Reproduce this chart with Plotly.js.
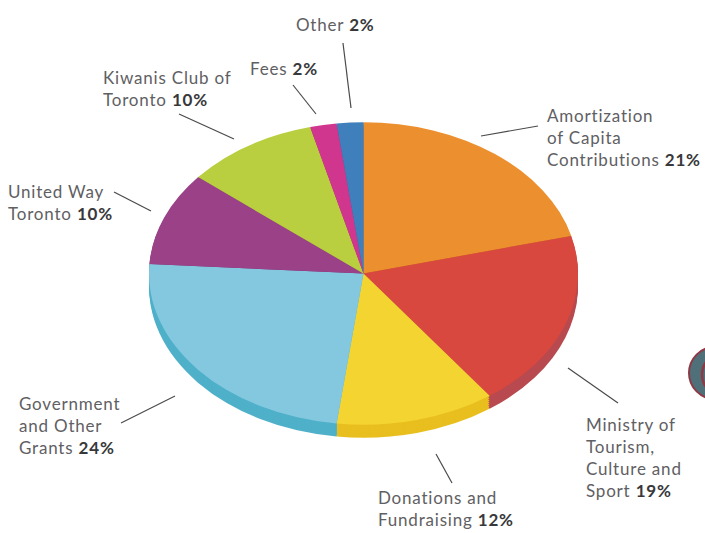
<!DOCTYPE html>
<html>
<head>
<meta charset="utf-8">
<script src="https://cdn.plot.ly/plotly-3.0.1.min.js"></script>
<style>
html,body{margin:0;padding:0;background:#fff;}
#chart{width:705px;height:533px;}
.annotation text{letter-spacing:.8px;}
</style>
</head>
<body>
<div id="chart"></div>
<script>
var categories = ["Amortization of Capita Contributions","Ministry of Tourism, Culture and Sport","Donations and Fundraising","Government and Other Grants","United Way Toronto","Kiwanis Club of Toronto","Fees","Other"];
var values = [21,19,12,24,10,10,2,2];
var topColors = ["#ec8f2e","#d9483f","#f4d431","#83c8de","#9a4188","#b9cf3f","#d1368f","#3f7fbc"];
var rimColors = ["#c9761f","#b84a50","#e8bf1e","#4fb0c9","#7c3370","#96a830","#a82a72","#2f6498"];
var labelHead = ["Amortization<br>of Capita<br>Contributions ","Ministry of<br>Tourism,<br>Culture and<br>Sport ","Donations and<br>Fundraising ","Government<br>and Other<br>Grants ","United Way<br>Toronto ","Kiwanis Club of<br>Toronto ","Fees ","Other "];
var labelPct = ["21%","19%","12%","24%","10%","10%","2%","2%"];
var labelLeft = [546,585,377,18,7,102,249,295];
var labelTop = [104,413,486,392,180,66,57,13];
var leaders = [
  [481,136,538,126],[568,368,618,403],[436,454,452,483],[175,396,121,423],
  [114,192,151,211],[179,114,234,139],[293,85,316,114],[343,43,351,108]
];
var rimOffsets = [13,11,9,7,5,3,1];

var W = 705, H = 533;
var cx = 363.5, rx = 214.5, squash = 0.705, faceCy = 273.5;
function px(x){return x/W;}
function py(y){return 1-y/H;}
function pie(colors){
  return {type:"pie",labels:categories,values:values,sort:false,direction:"clockwise",rotation:0,
    textinfo:"none",hoverinfo:"label+percent",showlegend:false,
    marker:{colors:colors,line:{width:0}},
    domain:{x:[px(cx-rx),px(cx+rx)],y:[py(H/2+rx),py(H/2-rx)]}};
}
var annotations = labelHead.map(function(t,i){
  return {xref:"paper",yref:"paper",x:px(labelLeft[i]),y:py(labelTop[i]),xanchor:"left",yanchor:"top",
    align:"left",showarrow:false,borderpad:0,
    text:t+'<b><span style="color:#38383a">'+labelPct[i]+"</span></b>",
    font:{family:"Lato, sans-serif",size:17,color:"#5f6063"}};
});
var shapes = leaders.map(function(l){
  return {type:"line",xref:"paper",yref:"paper",x0:px(l[0]),y0:py(l[1]),x1:px(l[2]),y1:py(l[3]),line:{color:"#4a4a4c",width:1.2}};
});
shapes.push({type:"circle",xref:"paper",yref:"paper",x0:px(689),x1:px(741),y0:py(347),y1:py(399),fillcolor:"#4f7078",line:{color:"#8e3a46",width:2}});
shapes.push({type:"circle",xref:"paper",yref:"paper",x0:px(702),x1:px(750),y0:py(352),y1:py(397),line:{color:"#8e3a46",width:2.5}});
var layout = {width:W,height:H,margin:{l:0,r:0,t:0,b:0},paper_bgcolor:"#fff",plot_bgcolor:"#fff",annotations:annotations,shapes:shapes};
var data = rimOffsets.map(function(){return pie(rimColors);}).concat([pie(topColors)]);
Plotly.newPlot("chart",data,layout,{displayModeBar:false,staticPlot:true}).then(function(gd){
  var traces = gd.querySelectorAll(".pielayer .trace");
  rimOffsets.concat([0]).forEach(function(off,i){
    if(traces[i]) traces[i].setAttribute("transform","translate(0,"+(faceCy+off)+") scale(1,"+squash+") translate(0,"+(-H/2)+")");
  });
});
</script>
</body>
</html>
